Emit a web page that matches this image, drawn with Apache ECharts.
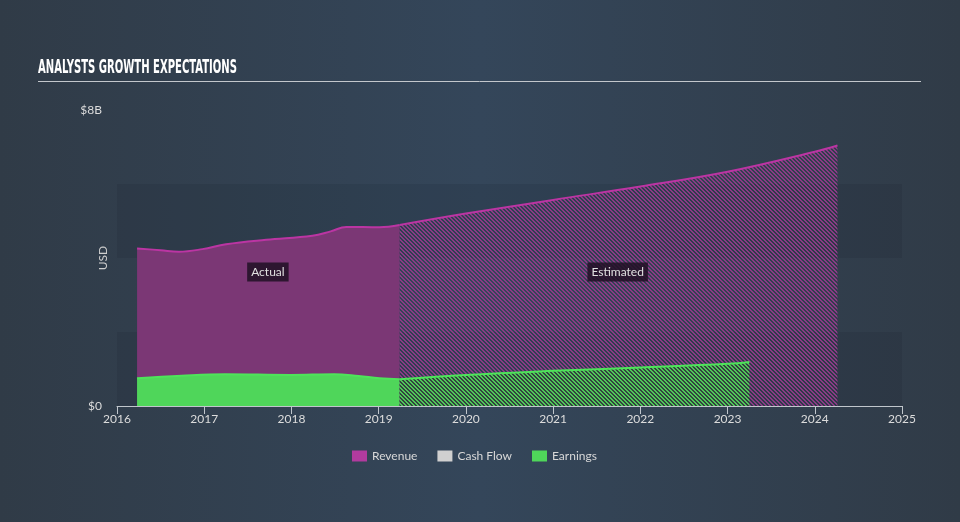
<!DOCTYPE html>
<html>
<head>
<meta charset="utf-8">
<script src="https://cdn.jsdelivr.net/npm/echarts@6/dist/echarts.min.js"></script>
<style>
html,body{margin:0;padding:0;width:960px;height:522px;overflow:hidden;}
#c{width:960px;height:522px;background:linear-gradient(to right,#303b47 0%,#34465a 50%,#303b47 100%);}
</style>
</head>
<body>
<div id="c"></div>
<script>
// ---- data (year, value in $B) ----
const revenueActualYears = [2016.23, 2016.5, 2016.71, 2016.98, 2017.25, 2017.71, 2018.24, 2018.45, 2018.63, 2019.01, 2019.24];
const revenueActualValues = [4.26, 4.21, 4.17, 4.24, 4.37, 4.49, 4.60, 4.72, 4.84, 4.83, 4.89];
const revenueEstYears = [2019.24, 2020, 2021, 2022, 2023, 2024, 2024.26];
const revenueEstValues = [4.89, 5.2, 5.57, 5.93, 6.33, 6.87, 7.04];
const earningsActualYears = [2016.23, 2016.74, 2017.24, 2017.99, 2018.49, 2018.77, 2019.01, 2019.24];
const earningsActualValues = [0.75, 0.82, 0.86, 0.84, 0.86, 0.81, 0.75, 0.72];
const earningsEstYears = [2019.24, 2020, 2021, 2022, 2023, 2023.25];
const earningsEstValues = [0.72, 0.84, 0.95, 1.04, 1.14, 1.19];
const yTickLabels = {0: '$0', 8: '$8B'};
const annotations = [
  {text: 'Actual', year: 2017.73, value: 3.62},
  {text: 'Estimated', year: 2021.74, value: 3.62}
];
const titleText = 'ANALYSTS GROWTH EXPECTATIONS';
const yAxisName = 'USD';

function pairs(xs, ys){ return xs.map((x,i)=>[x, ys[i]]); }

function makePattern(stripe, bg){
  const size = 4;
  const cv = document.createElement('canvas');
  cv.width = size; cv.height = size;
  const g = cv.getContext('2d');
  if (bg) { g.fillStyle = bg; g.fillRect(0,0,size,size); }
  g.fillStyle = stripe;
  for (let y=0;y<size;y++){
    for (let x=0;x<size;x++){
      const d = ((x - y) % size + size) % size;
      if (d < 2) g.fillRect(x,y,1,1);
    }
  }
  return {image: cv, repeat: 'repeat'};
}

const revColor = '#7b3775';
const revLine = '#bb35a3';
const earnColor = '#4fd65a';
const earnLine = '#4ee45a';

const mctx = document.createElement('canvas').getContext('2d');
const titleFont = 'bold 20px "DejaVu Sans Condensed", "DejaVu Sans", sans-serif';
mctx.font = titleFont;
const titleW = mctx.measureText(titleText).width;
const titleScale = 199 / titleW;

const chart = echarts.init(document.getElementById('c'), null, {renderer: 'canvas'});
const baseFont = 'Lato';

chart.setOption({
  backgroundColor: 'transparent',
  animation: false,
  textStyle: {fontFamily: baseFont},
  graphic: [
    {type: 'text', x: 38, y: 68, scaleX: titleScale, originX: 0, originY: 0,
     style: {text: titleText, font: titleFont, fill: '#ffffff', textAlign: 'left', textVerticalAlign: 'middle'}},
    {type: 'line', shape: {x1: 38, y1: 81.5, x2: 921, y2: 81.5}, style: {stroke: '#c3c7cc', lineWidth: 1}},
    {type: 'text', x: 103, y: 258, rotation: Math.PI / 2,
     style: {text: yAxisName, font: '12px Lato', fill: '#cfcfcf', textAlign: 'center', textVerticalAlign: 'middle'}}
  ],
  grid: {left: 117, right: 58, top: 110, bottom: 116},
  legend: {
    top: 445, left: 347,
    itemWidth: 15, itemHeight: 11, itemGap: 20,
    icon: 'rect',
    textStyle: {color: '#d8d8d8', fontSize: 12, fontFamily: baseFont},
    data: ['Revenue', 'Cash Flow', 'Earnings']
  },
  xAxis: {
    type: 'value', min: 2016, max: 2025, interval: 1,
    axisLine: {show: true, lineStyle: {color: '#c0c6cc', width: 1}},
    axisTick: {show: true, length: 8, lineStyle: {color: '#c0c6cc'}},
    axisLabel: {color: '#dcdcdc', fontSize: 12, margin: 7, formatter: v => String(Math.round(v))},
    splitLine: {show: false}
  },
  yAxis: {
    type: 'value', min: 0, max: 8, interval: 2,
    axisLine: {show: false}, axisTick: {show: false},
    axisLabel: {color: '#dcdcdc', fontSize: 12, margin: 15, formatter: v => yTickLabels[v] || ''},
    splitLine: {show: false},
    splitArea: {show: true, areaStyle: {color: ['rgba(10,20,30,0.1)', 'rgba(255,255,255,0)']}}
  },
  series: [
    {name: 'Revenue', type: 'line', data: pairs(revenueActualYears, revenueActualValues),
     smooth: 0.4, symbol: 'none', color: '#b13b9e',
     lineStyle: {color: revLine, width: 2},
     areaStyle: {color: revColor, opacity: 1},
     markPoint: {
       symbol: 'circle', symbolSize: 0, silent: true,
       label: {show: true, position: 'inside', color: '#e0e0e0', fontSize: 12, fontFamily: baseFont,
               backgroundColor: 'rgba(32,16,36,0.85)', padding: [4, 4, 3, 4],
               formatter: p => p.name},
       data: annotations.map(a => ({name: a.text, coord: [a.year, a.value]}))
     },
     z: 2},
    {name: 'Revenue', type: 'line', data: pairs(revenueEstYears, revenueEstValues),
     smooth: 0.4, symbol: 'none', color: '#b13b9e',
     lineStyle: {color: revLine, width: 2},
     areaStyle: {color: makePattern('#8b3a86', null), opacity: 1},
     z: 2},
    {name: 'Cash Flow', type: 'line', data: [], color: '#d0d0d0', symbol: 'none'},
    {name: 'Earnings', type: 'line', data: pairs(earningsActualYears, earningsActualValues),
     smooth: 0.4, symbol: 'none', color: earnColor,
     lineStyle: {color: earnLine, width: 2},
     areaStyle: {color: earnColor, opacity: 1},
     z: 3},
    {name: 'Earnings', type: 'line', data: pairs(earningsEstYears, earningsEstValues),
     smooth: 0.4, symbol: 'none', color: earnColor,
     lineStyle: {color: earnLine, width: 2},
     areaStyle: {color: makePattern('#4fc858', '#33403f'), opacity: 1},
     z: 3}
  ]
});
</script>
</body>
</html>
